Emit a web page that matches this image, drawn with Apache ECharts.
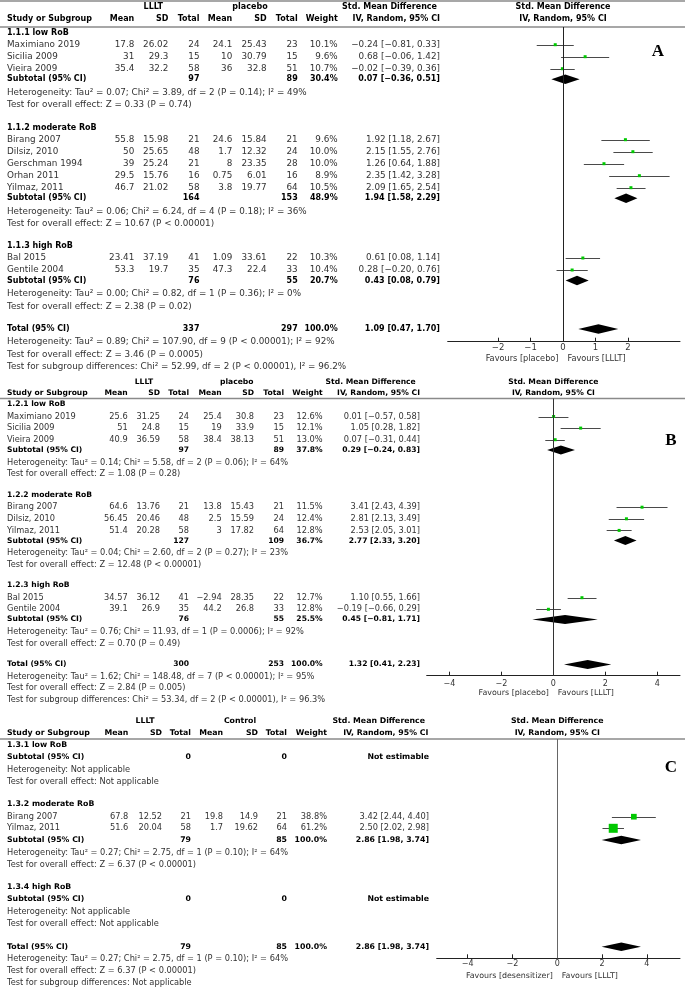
<!DOCTYPE html>
<html><head><meta charset="utf-8">
<script src="https://cdn.jsdelivr.net/npm/echarts@6/dist/echarts.min.js"></script>
<style>html,body{margin:0;padding:0;background:#fff}#c{width:685px;height:989px}</style>
</head><body><div id="c"></div>
<script>
// ================= DATA =================
// ---- Panel A ----
const A_arms = ['LLLT', 'placebo'];
const A_groups = ['1.1.1 low RoB', '1.1.2 moderate RoB', '1.1.3 high RoB'];
const A_studies = ['Maximiano 2019', 'Sicilia 2009', 'Vieira 2009', 'Birang 2007', 'Dilsiz, 2010', 'Gerschman 1994', 'Orhan 2011', 'Yilmaz, 2011', 'Bal 2015', 'Gentile 2004'];
const A_studyGroup = [0, 0, 0, 1, 1, 1, 1, 1, 2, 2];
const A_mean1 = [17.8, 31, 35.4, 55.8, 50, 39, 29.5, 46.7, 23.41, 53.3];
const A_sd1 = [26.02, 29.3, 32.2, 15.98, 25.65, 25.24, 15.76, 21.02, 37.19, 19.7];
const A_n1 = [24, 15, 58, 21, 48, 21, 16, 58, 41, 35];
const A_mean2 = [24.1, 10, 36, 24.6, 1.7, 8, 0.75, 3.8, 1.09, 47.3];
const A_sd2 = [25.43, 30.79, 32.8, 15.84, 12.32, 23.35, 6.01, 19.77, 33.61, 22.4];
const A_n2 = [23, 15, 51, 21, 24, 28, 16, 64, 22, 33];
const A_weight = [10.1, 9.6, 10.7, 9.6, 10.0, 10.0, 8.9, 10.5, 10.3, 10.4];
const A_smd = [-0.24, 0.68, -0.02, 1.92, 2.15, 1.26, 2.35, 2.09, 0.61, 0.28];
const A_lo = [-0.81, -0.06, -0.39, 1.18, 1.55, 0.64, 1.42, 1.65, 0.08, -0.20];
const A_hi = [0.33, 1.42, 0.36, 2.67, 2.76, 1.88, 3.28, 2.54, 1.14, 0.76];
const A_subN1 = [97, 164, 76];
const A_subN2 = [89, 153, 55];
const A_subWeight = [30.4, 48.9, 20.7];
const A_subSmd = [0.07, 1.94, 0.43];
const A_subLo = [-0.36, 1.58, 0.08];
const A_subHi = [0.51, 2.29, 0.79];
const A_subHet = ['Tau² = 0.07; Chi² = 3.89, df = 2 (P = 0.14); I² = 49%', 'Tau² = 0.06; Chi² = 6.24, df = 4 (P = 0.18); I² = 36%', 'Tau² = 0.00; Chi² = 0.82, df = 1 (P = 0.36); I² = 0%'];
const A_subZ = ['Z = 0.33 (P = 0.74)', 'Z = 10.67 (P < 0.00001)', 'Z = 2.38 (P = 0.02)'];
const A_totN = [337, 297];
const A_totWeight = 100.0;
const A_totCI = [1.09, 0.47, 1.70];
const A_totHet = 'Tau² = 0.89; Chi² = 107.90, df = 9 (P < 0.00001); I² = 92%';
const A_totZ = 'Z = 3.46 (P = 0.0005)';
const A_subDiff = 'Chi² = 52.99, df = 2 (P < 0.00001), I² = 96.2%';
const A_ticks = [-2, -1, 0, 1, 2];
const A_favours = ['Favours [placebo]', 'Favours [LLLT]'];

// ---- Panel B ----
const B_arms = ['LLLT', 'placebo'];
const B_groups = ['1.2.1 low RoB', '1.2.2 moderate RoB', '1.2.3 high RoB'];
const B_studies = ['Maximiano 2019', 'Sicilia 2009', 'Vieira 2009', 'Birang 2007', 'Dilsiz, 2010', 'Yilmaz, 2011', 'Bal 2015', 'Gentile 2004'];
const B_studyGroup = [0, 0, 0, 1, 1, 1, 2, 2];
const B_mean1 = [25.6, 51, 40.9, 64.6, 56.45, 51.4, 34.57, 39.1];
const B_sd1 = [31.25, 24.8, 36.59, 13.76, 20.46, 20.28, 36.12, 26.9];
const B_n1 = [24, 15, 58, 21, 48, 58, 41, 35];
const B_mean2 = [25.4, 19, 38.4, 13.8, 2.5, 3, -2.94, 44.2];
const B_sd2 = [30.8, 33.9, 38.13, 15.43, 15.59, 17.82, 28.35, 26.8];
const B_n2 = [23, 15, 51, 21, 24, 64, 22, 33];
const B_weight = [12.6, 12.1, 13.0, 11.5, 12.4, 12.8, 12.7, 12.8];
const B_smd = [0.01, 1.05, 0.07, 3.41, 2.81, 2.53, 1.10, -0.19];
const B_lo = [-0.57, 0.28, -0.31, 2.43, 2.13, 2.05, 0.55, -0.66];
const B_hi = [0.58, 1.82, 0.44, 4.39, 3.49, 3.01, 1.66, 0.29];
const B_subN1 = [97, 127, 76];
const B_subN2 = [89, 109, 55];
const B_subWeight = [37.8, 36.7, 25.5];
const B_subSmd = [0.29, 2.77, 0.45];
const B_subLo = [-0.24, 2.33, -0.81];
const B_subHi = [0.83, 3.20, 1.71];
const B_subHet = ['Tau² = 0.14; Chi² = 5.58, df = 2 (P = 0.06); I² = 64%', 'Tau² = 0.04; Chi² = 2.60, df = 2 (P = 0.27); I² = 23%', 'Tau² = 0.76; Chi² = 11.93, df = 1 (P = 0.0006); I² = 92%'];
const B_subZ = ['Z = 1.08 (P = 0.28)', 'Z = 12.48 (P < 0.00001)', 'Z = 0.70 (P = 0.49)'];
const B_totN = [300, 253];
const B_totWeight = 100.0;
const B_totCI = [1.32, 0.41, 2.23];
const B_totHet = 'Tau² = 1.62; Chi² = 148.48, df = 7 (P < 0.00001); I² = 95%';
const B_totZ = 'Z = 2.84 (P = 0.005)';
const B_subDiff = 'Chi² = 53.34, df = 2 (P < 0.00001), I² = 96.3%';
const B_ticks = [-4, -2, 0, 2, 4];
const B_favours = ['Favours [placebo]', 'Favours [LLLT]'];

// ---- Panel C ----
const C_arms = ['LLLT', 'Control'];
const C_groups = ['1.3.1 low RoB', '1.3.2 moderate RoB', '1.3.4 high RoB'];
const C_studies = ['Birang 2007', 'Yilmaz, 2011'];
const C_studyGroup = [1, 1];
const C_mean1 = [67.8, 51.6];
const C_sd1 = [12.52, 20.04];
const C_n1 = [21, 58];
const C_mean2 = [19.8, 1.7];
const C_sd2 = [14.9, 19.62];
const C_n2 = [21, 64];
const C_weight = [38.8, 61.2];
const C_smd = [3.42, 2.50];
const C_lo = [2.44, 2.02];
const C_hi = [4.40, 2.98];
const C_subN1 = [0, 79, 0];
const C_subN2 = [0, 85, 0];
const C_subWeight = [null, 100.0, null];
const C_subSmd = [null, 2.86, null];
const C_subLo = [null, 1.98, null];
const C_subHi = [null, 3.74, null];
const C_subHet = ['Not applicable', 'Tau² = 0.27; Chi² = 2.75, df = 1 (P = 0.10); I² = 64%', 'Not applicable'];
const C_subZ = ['Not applicable', 'Z = 6.37 (P < 0.00001)', 'Not applicable'];
const C_totN = [79, 85];
const C_totWeight = 100.0;
const C_totCI = [2.86, 1.98, 3.74];
const C_totHet = 'Tau² = 0.27; Chi² = 2.75, df = 1 (P = 0.10); I² = 64%';
const C_totZ = 'Z = 6.37 (P < 0.00001)';
const C_subDiff = 'Not applicable';
const C_ticks = [-4, -2, 0, 2, 4];
const C_favours = ['Favours [desensitizer]', 'Favours [LLLT]'];

const COL_HEADS = ['Mean', 'SD', 'Total', 'Mean', 'SD', 'Total', 'Weight'];

// ================= LAYOUT (positions / sizes / styles) =================
const L_A = { topLine: 1, hdrY: [6.5, 19.3], lineY: 27, labelX: 7, armX: [153.3, 250],
  cols: [134.3, 168.3, 199.5, 232.3, 266.7, 297.7, 337.7], smdX: 440, smdHdrX: [437, 440],
  groupY: [32.7, 127.7, 246], first: 12, pitch: 12, sub: 10.6, emptySub: 12.3, het: 13.2, test: 12.6,
  totalY: 329, totHet: 13, totTest: 12.6, totSub: 12.6,
  plotL: 447.7, plotR: 680, axisY: 341.7, xMin: -3.55, xMax: 3.6, favY: 359.3, labelMargin: 2,
  fs: 8.8, fsb: 8.0, fsTick: 8.5, fsFav: 8.2, diaH: 9.5, letter: 'A', letterX: 658, letterY: 51.5, zeroColor: '#222' };
const L_B = { hdrY: [382, 393.3], lineY: 398.5, labelX: 7, armX: [144, 236.7],
  cols: [127.7, 160, 189, 221.7, 254, 284, 322.7], smdX: 420, smdHdrX: [415.7, 420],
  groupY: [404.3, 495, 585.5], first: 12.2, pitch: 11.6, sub: 10.2, emptySub: 12, het: 12.5, test: 11.7,
  totalY: 664.5, totHet: 12, totTest: 11.7, totSub: 11.7,
  plotL: 426.7, plotR: 680, axisY: 675.7, xMin: -4.87, xMax: 4.87, favY: 693.3, labelMargin: 4,
  fs: 8.25, fsb: 7.6, fsTick: 8, fsFav: 7.9, diaH: 9, letter: 'B', letterX: 671, letterY: 440.5, zeroColor: '#333' };
const L_C = { hdrY: [721, 732.7], lineY: 739, labelX: 7, armX: [145, 240],
  cols: [128.3, 162, 191, 223, 258, 287, 327], smdX: 429, smdHdrX: [425, 428.3],
  groupY: [745, 804.3, 886.7], first: 12.4, pitch: 11.6, sub: 11.7, emptySub: 12.3, het: 12.4, test: 12.3,
  totalY: 946.7, totHet: 12.3, totTest: 11.7, totSub: 12.6,
  plotL: 436.7, plotR: 680, axisY: 958.3, xMin: -5.38, xMax: 5.48, favY: 976, labelMargin: 2,
  fs: 8.25, fsb: 7.8, fsTick: 8, fsFav: 7.9, diaH: 8.5, letter: 'C', letterX: 671, letterY: 768, zeroColor: '#666' };

const FONT = '"DejaVu Sans", "Noto Sans", sans-serif';
const SERIF = '"Liberation Serif", "DejaVu Serif", serif';

// ================= HELPERS =================
function fmtNum(v) { return String(v).replace('-', '\u2212'); }
function fmt2(v) { return v.toFixed(2).replace('-', '\u2212'); }
function fmtCI(e, l, h) { return fmt2(e) + ' [' + fmt2(l) + ', ' + fmt2(h) + ']'; }
function fmtW(w) { return w.toFixed(1) + '%'; }
function T(x, y, text, fs, bold, align, ff, fill) {
  align = align || 'left';
  return { type: 'text', x: x, y: y, silent: true, z: 10,
    style: { text: text, fontSize: fs, fontWeight: bold ? 'bold' : 'normal', fontFamily: ff || FONT,
      fill: fill || (bold ? '#000' : '#333'), textAlign: align, align: align,
      textVerticalAlign: 'middle', verticalAlign: 'middle' } };
}
function HL(x1, x2, y, color, w) {
  return { type: 'line', silent: true, shape: { x1: x1, y1: y, x2: x2, y2: y },
    style: { stroke: color || '#8a8a8a', lineWidth: w || 1.5 } };
}
function renderCI(params, api) {
  const y = api.value(3);
  const pl = api.coord([api.value(1), y]);
  const ph = api.coord([api.value(2), y]);
  const pe = api.coord([api.value(0), y]);
  const s = Math.max(3, api.value(4) * 0.147);
  const yy = Math.round(pe[1]) + 0.5;
  return { type: 'group', children: [
    { type: 'line', shape: { x1: pl[0], y1: yy, x2: ph[0], y2: yy }, style: { stroke: '#4a4a4a', lineWidth: 1 } },
    { type: 'rect', shape: { x: pe[0] - s / 2, y: pe[1] - s / 2, width: s, height: s }, style: { fill: '#00c800' } }
  ] };
}
function makeDiamond(h) {
  return function (params, api) {
    const y = api.value(3);
    const pe = api.coord([api.value(0), y]);
    const pl = api.coord([api.value(1), y]);
    const ph = api.coord([api.value(2), y]);
    return { type: 'polygon', shape: { points: [[pl[0], pe[1]], [pe[0], pe[1] - h / 2], [ph[0], pe[1]], [pe[0], pe[1] + h / 2]] },
      style: { fill: '#000' } };
  };
}

// ================= BUILD =================
const graphics = [], grids = [], xAxes = [], yAxes = [], series = [];

function buildPanel(P, L, k) {
  const reg = (x, y, t, al) => graphics.push(T(x, y, t, L.fs, false, al));
  const bold = (x, y, t, al) => graphics.push(T(x, y, t, L.fsb, true, al));
  if (L.topLine != null) graphics.push(HL(0, 685, L.topLine));
  graphics.push(HL(0, 685, L.lineY));
  bold(L.armX[0], L.hdrY[0], P.arms[0], 'center');
  bold(L.armX[1], L.hdrY[0], P.arms[1], 'center');
  bold(L.labelX, L.hdrY[1], 'Study or Subgroup');
  COL_HEADS.forEach((h, i) => bold(L.cols[i], L.hdrY[1], h, 'right'));
  bold(L.smdHdrX[0], L.hdrY[0], 'Std. Mean Difference', 'right');
  bold(L.smdHdrX[1], L.hdrY[1], 'IV, Random, 95% CI', 'right');
  const zx = L.plotL + (0 - L.xMin) / (L.xMax - L.xMin) * (L.plotR - L.plotL);
  bold(zx, L.hdrY[0], 'Std. Mean Difference', 'center');
  bold(zx, L.hdrY[1], 'IV, Random, 95% CI', 'center');

  const ci = [], dia = [];
  P.groups.forEach((g, gi) => {
    const gy = L.groupY[gi];
    bold(L.labelX, gy, g);
    let ly = gy;
    const idx = P.studyGroup.map((v, i) => v === gi ? i : -1).filter(i => i >= 0);
    idx.forEach((i, n) => {
      const y = gy + L.first + n * L.pitch; ly = y;
      reg(L.labelX, y, P.studies[i]);
      const vals = [fmtNum(P.mean1[i]), fmtNum(P.sd1[i]), String(P.n1[i]), fmtNum(P.mean2[i]), fmtNum(P.sd2[i]), String(P.n2[i]), fmtW(P.weight[i])];
      vals.forEach((v, c) => reg(L.cols[c], y, v, 'right'));
      reg(L.smdX, y, fmtCI(P.smd[i], P.lo[i], P.hi[i]), 'right');
      ci.push([P.smd[i], P.lo[i], P.hi[i], y, P.weight[i]]);
    });
    const sy = idx.length ? ly + L.sub : gy + L.emptySub;
    bold(L.labelX, sy, 'Subtotal (95% CI)');
    bold(L.cols[2], sy, String(P.subN1[gi]), 'right');
    bold(L.cols[5], sy, String(P.subN2[gi]), 'right');
    if (P.subWeight[gi] != null) {
      bold(L.cols[6], sy, fmtW(P.subWeight[gi]), 'right');
      bold(L.smdX, sy, fmtCI(P.subSmd[gi], P.subLo[gi], P.subHi[gi]), 'right');
      dia.push([P.subSmd[gi], P.subLo[gi], P.subHi[gi], sy]);
    } else {
      bold(L.smdX, sy, 'Not estimable', 'right');
    }
    const hy = sy + L.het, ty = hy + L.test;
    reg(L.labelX, hy, 'Heterogeneity: ' + P.subHet[gi]);
    reg(L.labelX, ty, 'Test for overall effect: ' + P.subZ[gi]);
  });
  const t0 = L.totalY;
  bold(L.labelX, t0, 'Total (95% CI)');
  bold(L.cols[2], t0, String(P.totN[0]), 'right');
  bold(L.cols[5], t0, String(P.totN[1]), 'right');
  bold(L.cols[6], t0, fmtW(P.totWeight), 'right');
  bold(L.smdX, t0, fmtCI(P.totCI[0], P.totCI[1], P.totCI[2]), 'right');
  dia.push([P.totCI[0], P.totCI[1], P.totCI[2], t0]);
  const t1 = t0 + L.totHet, t2 = t1 + L.totTest, t3 = t2 + L.totSub;
  reg(L.labelX, t1, 'Heterogeneity: ' + P.totHet);
  reg(L.labelX, t2, 'Test for overall effect: ' + P.totZ);
  reg(L.labelX, t3, 'Test for subgroup differences: ' + P.subDiff);

  // favours
  graphics.push(T(zx - 4.5, L.favY, P.favours[0], L.fsFav, false, 'right'));
  graphics.push(T(zx + 4.5, L.favY, P.favours[1], L.fsFav, false, 'left'));
  // panel letter
  graphics.push(T(L.letterX, L.letterY, L.letter, 17, true, 'center', SERIF, '#000'));

  grids.push({ left: L.plotL, width: L.plotR - L.plotL, top: L.lineY, height: L.axisY - L.lineY, containLabel: false });
  xAxes.push({ gridIndex: k, type: 'value', min: L.xMin, max: L.xMax,
    axisLine: { show: true, onZero: false, lineStyle: { color: '#222', width: 1 } },
    axisTick: { show: true, inside: true, length: 4, customValues: P.ticks, lineStyle: { color: '#222', width: 1 } },
    axisLabel: { show: true, customValues: P.ticks, fontSize: L.fsTick, fontFamily: FONT, color: '#333', margin: L.labelMargin,
      formatter: v => fmtNum(v) },
    splitLine: { show: false } });
  yAxes.push({ gridIndex: k, type: 'value', min: L.lineY, max: L.axisY, inverse: true, show: false, splitLine: { show: false } });
  series.push({ type: 'custom', xAxisIndex: k, yAxisIndex: k, data: ci, renderItem: renderCI, encode: { x: [0, 1, 2], y: 3 },
    silent: true, clip: false,
    markLine: { silent: true, symbol: ['none', 'none'], label: { show: false }, animation: false,
      lineStyle: { color: L.zeroColor, width: 1, type: 'solid' }, data: [{ xAxis: 0 }] } });
  series.push({ type: 'custom', xAxisIndex: k, yAxisIndex: k, data: dia, renderItem: makeDiamond(L.diaH), encode: { x: [0, 1, 2], y: 3 },
    silent: true, clip: false });
}

const PANEL_A = { arms: A_arms, groups: A_groups, studies: A_studies, studyGroup: A_studyGroup, mean1: A_mean1, sd1: A_sd1, n1: A_n1, mean2: A_mean2, sd2: A_sd2, n2: A_n2, weight: A_weight, smd: A_smd, lo: A_lo, hi: A_hi, subN1: A_subN1, subN2: A_subN2, subWeight: A_subWeight, subSmd: A_subSmd, subLo: A_subLo, subHi: A_subHi, subHet: A_subHet, subZ: A_subZ, totN: A_totN, totWeight: A_totWeight, totCI: A_totCI, totHet: A_totHet, totZ: A_totZ, subDiff: A_subDiff, ticks: A_ticks, favours: A_favours };
const PANEL_B = { arms: B_arms, groups: B_groups, studies: B_studies, studyGroup: B_studyGroup, mean1: B_mean1, sd1: B_sd1, n1: B_n1, mean2: B_mean2, sd2: B_sd2, n2: B_n2, weight: B_weight, smd: B_smd, lo: B_lo, hi: B_hi, subN1: B_subN1, subN2: B_subN2, subWeight: B_subWeight, subSmd: B_subSmd, subLo: B_subLo, subHi: B_subHi, subHet: B_subHet, subZ: B_subZ, totN: B_totN, totWeight: B_totWeight, totCI: B_totCI, totHet: B_totHet, totZ: B_totZ, subDiff: B_subDiff, ticks: B_ticks, favours: B_favours };
const PANEL_C = { arms: C_arms, groups: C_groups, studies: C_studies, studyGroup: C_studyGroup, mean1: C_mean1, sd1: C_sd1, n1: C_n1, mean2: C_mean2, sd2: C_sd2, n2: C_n2, weight: C_weight, smd: C_smd, lo: C_lo, hi: C_hi, subN1: C_subN1, subN2: C_subN2, subWeight: C_subWeight, subSmd: C_subSmd, subLo: C_subLo, subHi: C_subHi, subHet: C_subHet, subZ: C_subZ, totN: C_totN, totWeight: C_totWeight, totCI: C_totCI, totHet: C_totHet, totZ: C_totZ, subDiff: C_subDiff, ticks: C_ticks, favours: C_favours };

buildPanel(PANEL_A, L_A, 0);
buildPanel(PANEL_B, L_B, 1);
buildPanel(PANEL_C, L_C, 2);

const chart = echarts.init(document.getElementById('c'), null, { renderer: 'canvas' });
chart.setOption({
  backgroundColor: '#fff',
  animation: false,
  tooltip: { show: false },
  grid: grids, xAxis: xAxes, yAxis: yAxes, series: series,
  graphic: { elements: graphics }
});
</script>
</body></html>
